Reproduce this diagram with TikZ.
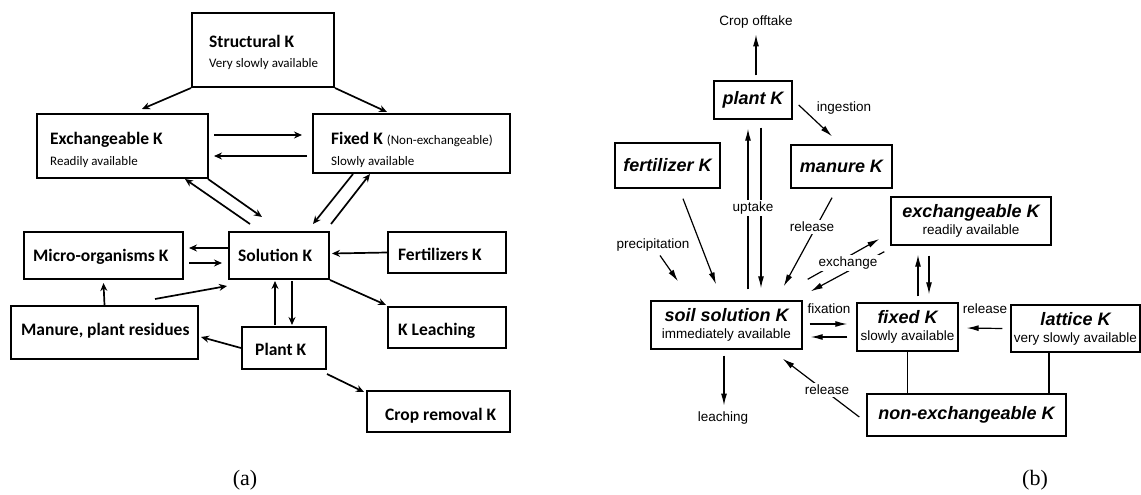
\documentclass[tikz,border=0pt]{standalone}
\usepackage{fontspec}
\setmainfont{Liberation Serif}
\newfontfamily\calf{Carlito}
\newfontfamily\arf{Liberation Sans}
\usetikzlibrary{arrows.meta,calc}
\begin{document}
\begin{tikzpicture}[x=1pt,y=-1pt,
  lbox/.style={draw, line width=2pt, inner sep=0pt},
  ltitle/.style={anchor=base west, inner sep=0pt, font=\calf\bfseries\fontsize{17.5}{20}\selectfont},
  lsub/.style={anchor=base west, inner sep=0pt, font=\calf\fontsize{13}{15}\selectfont},
  larr/.style={line width=1.7pt, -{Stealth[length=8pt,width=7pt]}},
  rbox/.style={draw, line width=1.4pt, inner sep=0pt, align=center, font=\arf\bfseries\itshape\fontsize{18}{18}\selectfont},
  rlbl/.style={font=\arf\fontsize{13.5}{15}\selectfont, inner sep=1pt},
  rwlbl/.style={rlbl, fill=white, inner sep=2pt},
  rarr/.style={line width=1.2pt, -{Latex[length=12pt,width=6pt]}},
  rline/.style={line width=1.2pt},
  captxt/.style={anchor=base, font=\fontsize{22}{24}\selectfont}
]
\useasboundingbox (0,0) rectangle (1141,495);

% ---------------- (a) ----------------
\node[lbox, minimum width=142pt, minimum height=74pt] (struct) at (263,50) {};
\node[ltitle] (structT) at (209,48) {Structural K};
\node[lsub] (structS) at (209,68) {Very slowly available};

\node[lbox, minimum width=171pt, minimum height=64pt] (exch) at (122.5,146) {};
\node[ltitle] (exchT) at (50,144) {Exchangeable K};
\node[lsub] (exchS) at (50,165) {Readily available};

\node[lbox, minimum width=197pt, minimum height=59pt] (fixed) at (411.5,143.5) {};
\node[ltitle] (fixedT) at (331,144) {Fixed K {\mdseries\fontsize{13}{15}\selectfont (Non-exchangeable)}};
\node[lsub] (fixedS) at (331,165) {Slowly available};

\node[lbox, minimum width=100pt, minimum height=47pt] (sol) at (279,255.5) {};
\node[ltitle] (solT) at (238,261) {Solution K};

\node[lbox, minimum width=159pt, minimum height=47pt] (micro) at (103.5,255.5) {};
\node[ltitle] (microT) at (33,261) {Micro-organisms K};

\node[lbox, minimum width=118pt, minimum height=41pt] (fert) at (447,252.5) {};
\node[ltitle] (fertT) at (398,260) {Fertilizers K};

\node[lbox, minimum width=118pt, minimum height=41pt] (leach) at (447,327.5) {};
\node[ltitle] (leachT) at (398,335) {K Leaching};

\node[lbox, minimum width=187pt, minimum height=53pt] (manure) at (104.5,332.5) {};
\node[ltitle] (manureT) at (21,335) {Manure, plant residues};

\node[lbox, minimum width=84pt, minimum height=42pt] (plant) at (284,348) {};
\node[ltitle] (plantT) at (255,355) {Plant K};

\node[lbox, minimum width=143pt, minimum height=41pt] (crop) at (438.5,411.5) {};
\node[ltitle] (cropT) at (385,420) {Crop removal K};

\draw[larr] (struct.south west) -- ($(exch.north)+(19.5,-4)$);
\draw[larr] (struct.south east) -- ($(fixed.north)+(-24.5,-1)$);
\draw[larr] ($(exch.east)+(5,-11)$) -- ($(fixed.west)+(-10,-8.5)$);
\draw[larr] ($(fixed.west)+(-5,12.5)$) -- ($(exch.east)+(5,10)$);
\draw[larr] ($(sol.north)+(-29,-7)$) -- ($(exch.south east)+(-24,0)$);
\draw[larr] ($(exch.south east)+(-1,0)$) -- ($(sol.north)+(-17,-14)$);
\draw[larr] ($(fixed.south)+(-58.5,0)$) -- ($(sol.north)+(34,-7)$);
\draw[larr] ($(sol.north east)+(1,-7)$) -- ($(fixed.south)+(-41.5,0)$);
\draw[larr] ($(sol.west)+(0,-7.5)$) -- ($(micro.east)+(5,-7.5)$);
\draw[larr] ($(micro.east)+(5,7.5)$) -- ($(sol.west)+(-6,7.5)$);
\draw[larr] (fert.west) -- ($(sol.east)+(2,-2)$);
\draw[larr] (sol.south east) -- ($(leach.north west)+(-1,-1)$);
\draw[larr] ($(manure.north)+(50.5,-6)$) -- ($(sol.south west)+(-1,6)$);
\draw[larr] (manure.north) -- ($(micro.south)+(0,3)$);
\draw[larr] ($(plant.north)+(-9,-1)$) -- ($(sol.south)+(-4,1)$);
\draw[larr] ($(sol.south)+(13,1)$) -- ($(plant.north)+(8,-1)$);
\draw[larr] (plant.west) -- ($(manure.east)+(2,4.5)$);
\draw[larr] ($(plant.south east)+(0,4)$) -- ($(crop.north west)+(-2,2)$);

% ---------------- (b) ----------------
\node[rbox, minimum width=78pt, minimum height=38pt] (plantr) at (753,100) {plant K};
\node[rbox, minimum width=101pt, minimum height=43pt] (manurer) at (841.5,166.5) {manure K};
\node[rbox, minimum width=105pt, minimum height=45pt] (fertr) at (667.5,165.5) {fertilizer K};
\node[rbox, minimum width=151pt, minimum height=48pt] (soil) at (726.5,325) {soil solution K\\[-1pt]{\arf\mdseries\upshape\fontsize{13.5}{15}\selectfont immediately available}};
\node[rbox, minimum width=160pt, minimum height=48pt] (exchr) at (971,221) {exchangeable K\\[-1pt]{\arf\mdseries\upshape\fontsize{13.5}{15}\selectfont readily available}};
\node[rbox, minimum width=101pt, minimum height=48pt] (fixedr) at (907.5,327) {fixed K\\[-1pt]{\arf\mdseries\upshape\fontsize{13.5}{15}\selectfont slowly available}};
\node[rbox, minimum width=129pt, minimum height=47pt] (lattice) at (1075.5,328.5) {lattice K\\[-1pt]{\arf\mdseries\upshape\fontsize{13.5}{15}\selectfont very slowly available}};
\node[rbox, minimum width=199pt, minimum height=42pt] (nonex) at (966.5,415) {non-exchangeable K};

\node[rlbl] (cropoff) at (756,22) {Crop offtake};
\node[rlbl] (ingest) at (844,108) {ingestion};
\node[rlbl] (precip) at (653,245) {precipitation};
\node[rlbl] (fixl) at (829,309) {fixation};
\node[rlbl] (rell) at (985,309) {release};
\node[rlbl] (leachl) at (723,418) {leaching};

\coordinate (latb) at ($(lattice.south)+(-26.5,0)$);

\draw[rarr] ($(plantr.north)+(3,-5)$) -- ($(cropoff.south)+(0,5)$);
\draw[rarr] ($(plantr.east)+(6,5)$) -- ($(manurer.north)+(-9.5,-8)$);
\draw[rarr] ($(soil.north)+(21.5,-11)$) -- ($(plantr.south)+(-5,9)$);
\draw[rarr] ($(plantr.south)+(8,8)$) -- ($(soil.north)+(34.5,-12)$);
\draw[rarr] ($(fertr.south)+(15.5,10)$) -- ($(soil.north)+(-10.5,-16)$);
\draw[rarr] ($(precip.south)+(7,3)$) -- ($(soil.north)+(-48.5,-19)$);
\draw[rarr] ($(manurer.south)+(-9.5,9)$) -- ($(soil.north east)+(-19,-14)$);
\draw[rarr] ($(soil.north east)+(5,-21)$) -- ($(exchr.west)+(-11,18)$);
\draw[rarr] ($(exchr.south west)+(-6,6)$) -- ($(soil.north east)+(8,-9)$);
\draw[rarr] ($(fixedr.north)+(10.5,-6)$) -- ($(exchr.south)+(-53,9)$);
\draw[rarr] ($(exchr.south)+(-42,10)$) -- ($(fixedr.north)+(21.5,-8)$);
\draw[rarr] ($(soil.east)+(7,-1)$) -- ($(fixedr.west)+(-9,-3)$);
\draw[rarr] ($(fixedr.west)+(-9,10)$) -- ($(soil.east)+(8,12)$);
\draw[rarr] ($(lattice.west)+(-8,0)$) -- ($(fixedr.east)+(8,1)$);
\draw[rline] (fixedr.south) -- (fixedr.south |- nonex.north);
\draw[rline] (latb) -- (latb |- nonex.north);
\draw[rarr] ($(soil.south)+(-2.5,6)$) -- ($(leachl.north)+(1,-5)$);
\draw[rarr] ($(nonex.west)+(-7,2)$) -- ($(soil.south east)+(-20,9)$);

\node[rwlbl] (uptake) at (753,208) {uptake};
\node[rwlbl] (relm) at (812,227) {release};
\node[rwlbl] (exchl) at (848,263) {exchange};
\node[rwlbl] (reln) at (827,390) {release};

% captions
\node[captxt] (capa) at (245,485) {(a)};
\node[captxt] (capb) at (1035,485) {(b)};
\end{tikzpicture}
\end{document}
